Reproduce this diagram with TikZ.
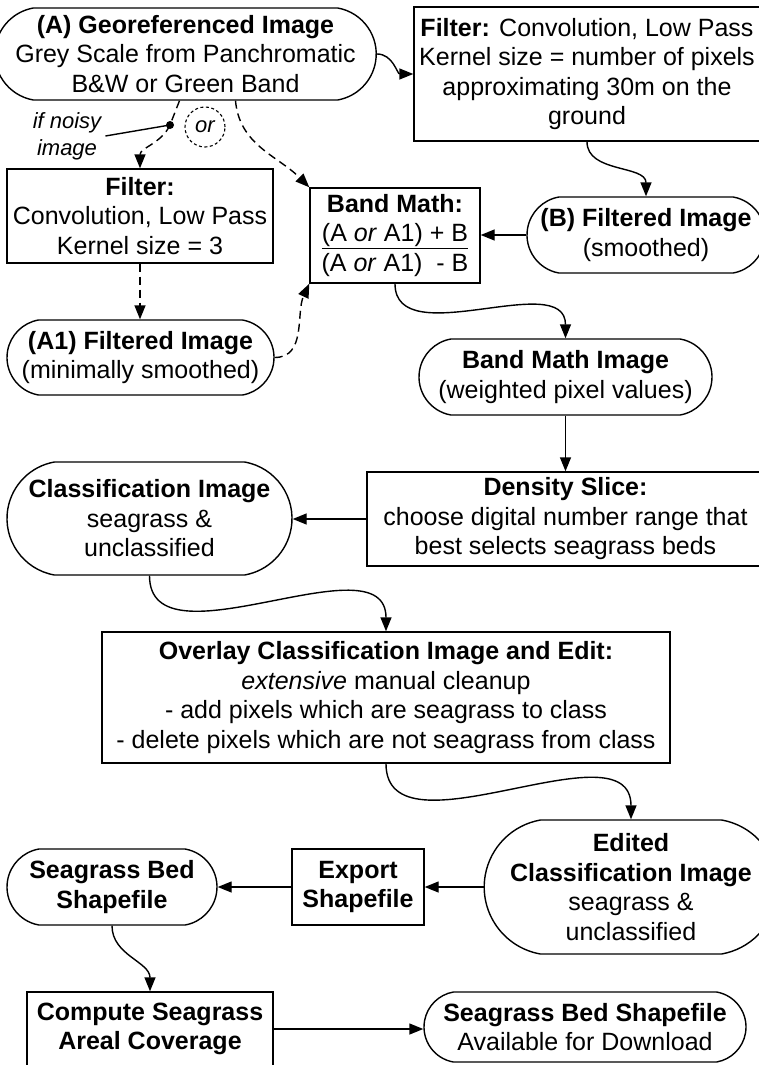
\documentclass[tikz,border=0pt]{standalone}
\usepackage{fontspec}
\setmainfont{Liberation Sans}
\usetikzlibrary{arrows.meta,shapes.misc,calc}
\begin{document}
\begin{tikzpicture}[x=1pt,y=1pt,
  every node/.style={font=\fontsize{25}{29.5}\selectfont, align=center, inner sep=0pt},
  box/.style={draw, rectangle, line width=1.4pt},
  pill/.style={draw, rounded rectangle, rounded rectangle arc length=160, line width=1.4pt},
  arr/.style={line width=1.4pt, -{Triangle[length=14pt,width=11pt]}},
  darr/.style={arr, dash pattern=on 8pt off 5pt},
  lbl/.style={font=\fontsize{22}{27}\selectfont\itshape, inner sep=4pt},
]
\useasboundingbox (0,0) rectangle (758,-1065);

% nodes
\node[pill, minimum width=357pt, minimum height=92pt] (A) at (185.5,-54)
  {\textbf{(A) Georeferenced Image}\\Grey Scale from Panchromatic\\B\&W or Green Band};
\node[box, minimum width=346pt, minimum height=134pt] (F2) at (587,-74)
  {\textbf{Filter:} Convolution, Low Pass\\Kernel size = number of pixels\\approximating 30m on the\\ground};
\node[box, minimum width=266pt, minimum height=94pt] (F1) at (140,-216)
  {\textbf{Filter:}\\Convolution, Low Pass\\Kernel size = 3};
\node[pill, minimum width=267pt, minimum height=75pt] (A1) at (140.5,-357.5)
  {\textbf{(A1) Filtered Image}\\(minimally smoothed)};
\node[box, minimum width=170pt, minimum height=95pt] (BM) at (395,-235.5)
  {\textbf{Band Math:}\\\underline{(A \textit{or} A1) + B}\\(A \textit{or} A1)\ \ - B};
\node[pill, minimum width=238pt, minimum height=76pt] (B) at (646,-235)
  {\textbf{(B) Filtered Image}\\(smoothed)};
\node[pill, minimum width=293pt, minimum height=76pt] (BMI) at (565.5,-377)
  {\textbf{Band Math Image}\\(weighted pixel values)};
\node[box, minimum width=397pt, minimum height=94pt] (DS) at (565.5,-519)
  {\textbf{Density Slice:}\\choose digital number range that\\best selects seagrass beds};
\node[pill, minimum width=285pt, minimum height=113pt] (CI) at (149.5,-518.5)
  {\textbf{Classification Image}\\seagrass \&\\unclassified};
\node[box, minimum width=568pt, minimum height=131pt] (OV) at (386,-697.5)
  {\textbf{Overlay Classification Image and Edit:}\\\textit{extensive} manual cleanup\\- add pixels which are seagrass to class\\- delete pixels which are not seagrass from class};
\node[pill, minimum width=268pt, minimum height=134pt] (ED) at (631,-887)
  {\textbf{Edited}\\\textbf{Classification Image}\\seagrass \&\\unclassified};
\node[box, minimum width=132pt, minimum height=76pt] (EX) at (358,-887)
  {\textbf{Export}\\\textbf{Shapefile}};
\node[pill, minimum width=210pt, minimum height=76pt] (SBS) at (112,-887)
  {\textbf{Seagrass Bed}\\\textbf{Shapefile}};
\node[box, minimum width=246pt, minimum height=74pt] (CO) at (150,-1029)
  {\textbf{Compute Seagrass}\\\textbf{Areal Coverage}};
\node[pill, minimum width=322pt, minimum height=70pt] (FI) at (585,-1027)
  {\textbf{Seagrass Bed Shapefile}\\Available for Download};

% auxiliary marks
\node[circle, fill, minimum size=8pt] (dot) at (170,-125) {};
\node[lbl] (noisy) at (67,-136) {if noisy\\image};
\node[circle, draw, dash pattern=on 3pt off 2.5pt, line width=1.1pt, minimum size=40pt, lbl, inner sep=0pt] (or) at (205,-127) {or};

% connectors
\draw[arr] (A.east) to[out=0,in=180] (F2.west);
\draw[arr] (F2.south) to[out=-90,in=90] (B.north);
\draw[arr] (B.west) -- (B.west -| BM.east);
\draw[line width=1.4pt] (noisy.east) -- (dot.center);
\draw[darr] ([xshift=-6pt]A.south) -- (dot.center) to[out=-115,in=90] (F1.north);
\draw[darr] ([xshift=50pt]A.south) to[out=-85,in=135] (BM.north west);
\draw[darr] (F1.south) -- (F1.south |- A1.north);
\draw[darr] (A1.east) to[out=0,in=-115] (BM.south west);
\draw[arr] (BM.south) to[out=-90,in=90] (BMI.north);
\draw[arr] (BMI.south) -- (BMI.south |- DS.north);
\draw[arr] (DS.west) -- (DS.west -| CI.east);
\draw[arr] (CI.south) to[out=-90,in=90] (OV.north);
\draw[arr] (OV.south) to[out=-90,in=90] (ED.north);
\draw[arr] (ED.west) -- (ED.west -| EX.east);
\draw[arr] (EX.west) -- (EX.west -| SBS.east);
\draw[arr] (SBS.south) to[out=-90,in=90] (CO.north);
\draw[arr] (CO.east) -- (CO.east -| FI.west);
\end{tikzpicture}
\end{document}
